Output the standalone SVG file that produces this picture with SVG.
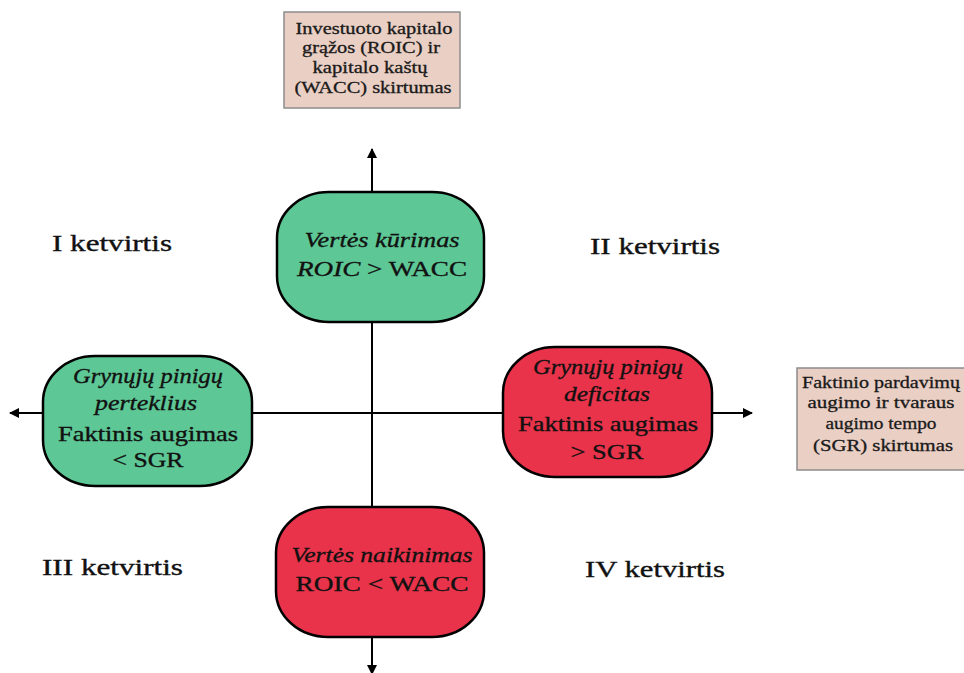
<svg xmlns="http://www.w3.org/2000/svg" width="964" height="673" viewBox="0 0 964 673">
  <style>
    .bg { fill: #ffffff; }
    .axis { stroke: #000000; stroke-width: 2; fill: none; }
    .note { fill: #eacfc4; stroke: #8c8c8c; stroke-width: 1.5; }
    .serif { font-family: 'Liberation Serif', 'DejaVu Serif', serif; }
    .note-text { font-size: 16px; fill: #1a1a1a; stroke: #1a1a1a; stroke-width: 0.3; text-anchor: middle; }
    .green { fill: #5dc795; stroke: #000000; stroke-width: 2.5; }
    .red { fill: #e8334a; stroke: #000000; stroke-width: 2.5; }
    .node-text { font-size: 22px; fill: #111111; stroke: #111111; stroke-width: 0.35; text-anchor: middle; }
    .it { font-style: italic; }
    .quad { font-size: 23px; fill: #111111; stroke: #111111; stroke-width: 0.35; }
  </style>
  <defs>
    <marker id="arrow" viewBox="0 0 10 10" refX="9" refY="5" markerWidth="5" markerHeight="5" orient="auto-start-reverse" markerUnits="strokeWidth">
      <path d="M0,0 L10,5 L0,10 z" fill="#000000"/>
    </marker>
  </defs>

  <rect class="bg" x="0" y="0" width="964" height="673"/>

  <!-- axes -->
  <g id="connectors">
    <line class="axis" x1="372" y1="672" x2="372" y2="149" marker-end="url(#arrow)"/>
    <line class="axis" x1="10" y1="413" x2="752" y2="413" marker-start="url(#arrow)" marker-end="url(#arrow)"/>
    <path d="M367,665 L377,665 L372,675 z" fill="#000000"/>
  </g>

  <g class="serif">
  <!-- axis caption: vertical -->
  <g id="roic-wacc-note">
    <rect class="note" x="284" y="12" width="176" height="96"/>
    <text class="note-text" x="374" y="34" textLength="157" lengthAdjust="spacingAndGlyphs">Investuoto kapitalo</text>
    <text class="note-text" x="371" y="53" textLength="138" lengthAdjust="spacingAndGlyphs">grąžos (ROIC) ir</text>
    <text class="note-text" x="370" y="73" textLength="115" lengthAdjust="spacingAndGlyphs">kapitalo kaštų</text>
    <text class="note-text" x="373" y="93" textLength="157" lengthAdjust="spacingAndGlyphs">(WACC) skirtumas</text>
  </g>

  <!-- axis caption: horizontal -->
  <g id="sgr-note">
    <rect class="note" x="797" y="368" width="172" height="102"/>
    <text class="note-text" x="881" y="388" textLength="158" lengthAdjust="spacingAndGlyphs">Faktinio pardavimų</text>
    <text class="note-text" x="881" y="408" textLength="147" lengthAdjust="spacingAndGlyphs">augimo ir tvaraus</text>
    <text class="note-text" x="881" y="429" textLength="111" lengthAdjust="spacingAndGlyphs">augimo tempo</text>
    <text class="note-text" x="883" y="451" textLength="140" lengthAdjust="spacingAndGlyphs">(SGR) skirtumas</text>
  </g>

  <g id="value-creation">
    <rect class="green" x="277" y="192" width="207" height="130" rx="52" ry="46"/>
    <text class="node-text it" x="382" y="247" textLength="155" lengthAdjust="spacingAndGlyphs">Vertės kūrimas</text>
    <text class="node-text" x="382" y="276" textLength="170" lengthAdjust="spacingAndGlyphs"><tspan class="it">ROIC</tspan> &gt; WACC</text>
  </g>

  <g id="cash-surplus">
    <rect class="green" x="43" y="356" width="209" height="130" rx="52" ry="46"/>
    <text class="node-text it" x="148" y="383" textLength="150" lengthAdjust="spacingAndGlyphs">Grynųjų pinigų</text>
    <text class="node-text it" x="146" y="410" textLength="102" lengthAdjust="spacingAndGlyphs">perteklius</text>
    <text class="node-text" x="148" y="441" textLength="180" lengthAdjust="spacingAndGlyphs">Faktinis augimas</text>
    <text class="node-text" x="148" y="467" textLength="71" lengthAdjust="spacingAndGlyphs">&lt; SGR</text>
  </g>

  <g id="cash-deficit">
    <rect class="red" x="503" y="347" width="209" height="130" rx="52" ry="46"/>
    <text class="node-text it" x="608" y="374" textLength="150" lengthAdjust="spacingAndGlyphs">Grynųjų pinigų</text>
    <text class="node-text it" x="607" y="401" textLength="86" lengthAdjust="spacingAndGlyphs">deficitas</text>
    <text class="node-text" x="608" y="431" textLength="180" lengthAdjust="spacingAndGlyphs">Faktinis augimas</text>
    <text class="node-text" x="607" y="459" textLength="73" lengthAdjust="spacingAndGlyphs">&gt; SGR</text>
  </g>

  <g id="value-destruction">
    <rect class="red" x="276" y="507" width="208" height="130" rx="52" ry="46"/>
    <text class="node-text it" x="382" y="562" textLength="181" lengthAdjust="spacingAndGlyphs">Vertės naikinimas</text>
    <text class="node-text" x="382" y="591" textLength="173" lengthAdjust="spacingAndGlyphs">ROIC &lt; WACC</text>
  </g>

  <!-- quadrant labels -->
  <g id="quadrant-1"><text class="quad" x="52" y="251" textLength="120" lengthAdjust="spacingAndGlyphs">I ketvirtis</text></g>
  <g id="quadrant-2"><text class="quad" x="590" y="254" textLength="130" lengthAdjust="spacingAndGlyphs">II ketvirtis</text></g>
  <g id="quadrant-3"><text class="quad" x="42" y="575" textLength="141" lengthAdjust="spacingAndGlyphs">III ketvirtis</text></g>
  <g id="quadrant-4"><text class="quad" x="585" y="577" textLength="140" lengthAdjust="spacingAndGlyphs">IV ketvirtis</text></g>
  </g>
</svg>
